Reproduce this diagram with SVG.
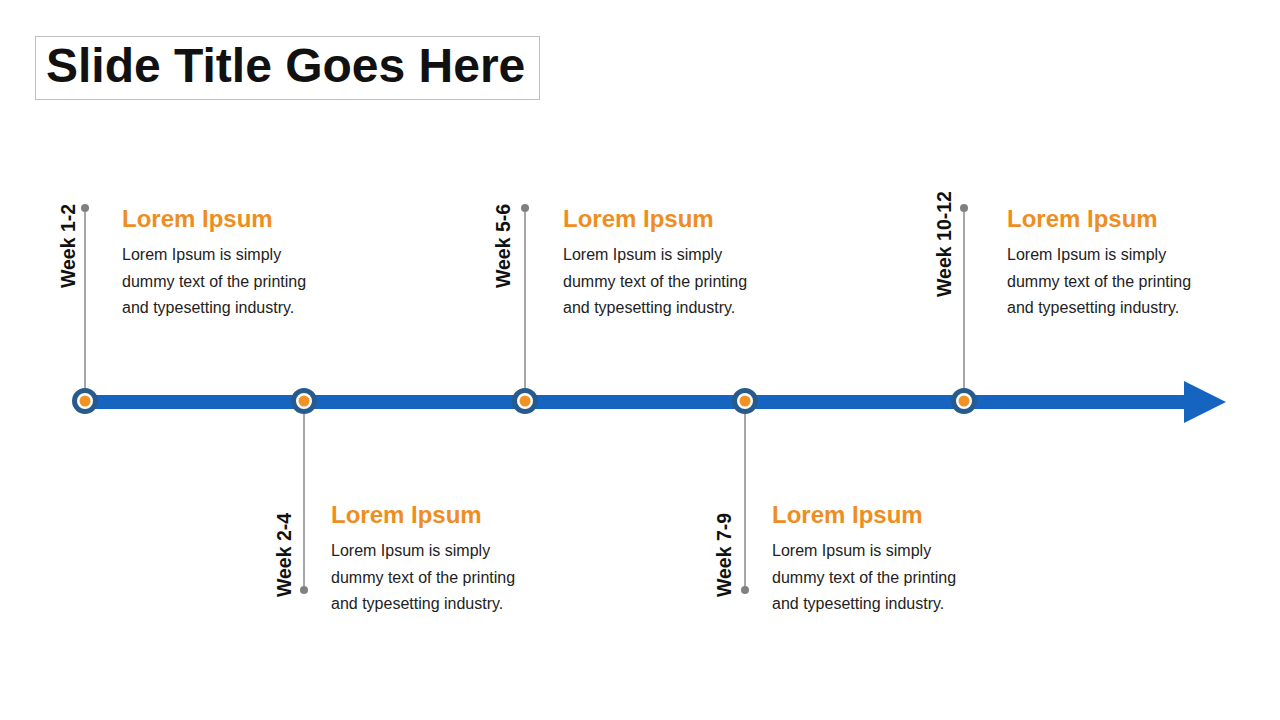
<svg xmlns="http://www.w3.org/2000/svg" width="1280" height="720" viewBox="0 0 1280 720">
  <style>
    .title { font-family: "Liberation Sans", Arial, sans-serif; font-weight: bold; font-size: 48px; fill: #111111; }
    .week { font-family: "Liberation Sans", Arial, sans-serif; font-weight: bold; font-size: 19.5px; fill: #111111; text-anchor: middle; }
    .head { font-family: "Liberation Sans", Arial, sans-serif; font-weight: bold; font-size: 24px; fill: #EE8E22; }
    .body { font-family: "Liberation Sans", Arial, sans-serif; font-size: 16px; fill: #222222; }
    .stem { stroke: #888888; stroke-width: 1.5; fill: none; }
    .tip { fill: #808080; }
    .ring { fill: #FFFFFF; stroke: #275B8E; stroke-width: 5; }
    .core { fill: #F29222; }
  </style>
  <rect width="1280" height="720" fill="#FFFFFF"/>

  <g id="title">
    <rect x="35.5" y="36.5" width="504" height="63" fill="#FFFFFF" stroke="#BFBFBF" stroke-width="1"/>
    <text class="title" x="46" y="82">Slide Title Goes Here</text>
  </g>

  <g id="connectors">
    <rect x="85" y="395" width="1100" height="14" fill="#1565C0"/>
    <polygon points="1184,381 1226,402 1184,423" fill="#1565C0"/>
    <line class="stem" x1="85" y1="208" x2="85" y2="390"/>
    <line class="stem" x1="304" y1="412" x2="304" y2="590"/>
    <line class="stem" x1="525" y1="208" x2="525" y2="390"/>
    <line class="stem" x1="745" y1="412" x2="745" y2="590"/>
    <line class="stem" x1="964" y1="208" x2="964" y2="390"/>
    <circle class="tip" cx="85" cy="208" r="4"/>
    <circle class="tip" cx="304" cy="590" r="4"/>
    <circle class="tip" cx="525" cy="208" r="4"/>
    <circle class="tip" cx="745" cy="590" r="4"/>
    <circle class="tip" cx="964" cy="208" r="4"/>
  </g>

  <g id="node1">
    <circle class="ring" cx="85" cy="401" r="10.5"/>
    <circle class="core" cx="85" cy="401" r="5.5"/>
    <text class="week" transform="translate(75,246) rotate(-90)">Week 1-2</text>
    <text class="head" x="122" y="227">Lorem Ipsum</text>
    <text class="body" x="122" y="260">Lorem Ipsum is simply</text>
    <text class="body" x="122" y="287">dummy text of the printing</text>
    <text class="body" x="122" y="313">and typesetting industry.</text>
  </g>

  <g id="node2">
    <circle class="ring" cx="304" cy="401" r="10.5"/>
    <circle class="core" cx="304" cy="401" r="5.5"/>
    <text class="week" transform="translate(291,555) rotate(-90)">Week 2-4</text>
    <text class="head" x="331" y="523">Lorem Ipsum</text>
    <text class="body" x="331" y="556">Lorem Ipsum is simply</text>
    <text class="body" x="331" y="583">dummy text of the printing</text>
    <text class="body" x="331" y="609">and typesetting industry.</text>
  </g>

  <g id="node3">
    <circle class="ring" cx="525" cy="401" r="10.5"/>
    <circle class="core" cx="525" cy="401" r="5.5"/>
    <text class="week" transform="translate(510,246) rotate(-90)">Week 5-6</text>
    <text class="head" x="563" y="227">Lorem Ipsum</text>
    <text class="body" x="563" y="260">Lorem Ipsum is simply</text>
    <text class="body" x="563" y="287">dummy text of the printing</text>
    <text class="body" x="563" y="313">and typesetting industry.</text>
  </g>

  <g id="node4">
    <circle class="ring" cx="745" cy="401" r="10.5"/>
    <circle class="core" cx="745" cy="401" r="5.5"/>
    <text class="week" transform="translate(731,555) rotate(-90)">Week 7-9</text>
    <text class="head" x="772" y="523">Lorem Ipsum</text>
    <text class="body" x="772" y="556">Lorem Ipsum is simply</text>
    <text class="body" x="772" y="583">dummy text of the printing</text>
    <text class="body" x="772" y="609">and typesetting industry.</text>
  </g>

  <g id="node5">
    <circle class="ring" cx="964" cy="401" r="10.5"/>
    <circle class="core" cx="964" cy="401" r="5.5"/>
    <text class="week" transform="translate(951,244) rotate(-90)">Week 10-12</text>
    <text class="head" x="1007" y="227">Lorem Ipsum</text>
    <text class="body" x="1007" y="260">Lorem Ipsum is simply</text>
    <text class="body" x="1007" y="287">dummy text of the printing</text>
    <text class="body" x="1007" y="313">and typesetting industry.</text>
  </g>
</svg>
